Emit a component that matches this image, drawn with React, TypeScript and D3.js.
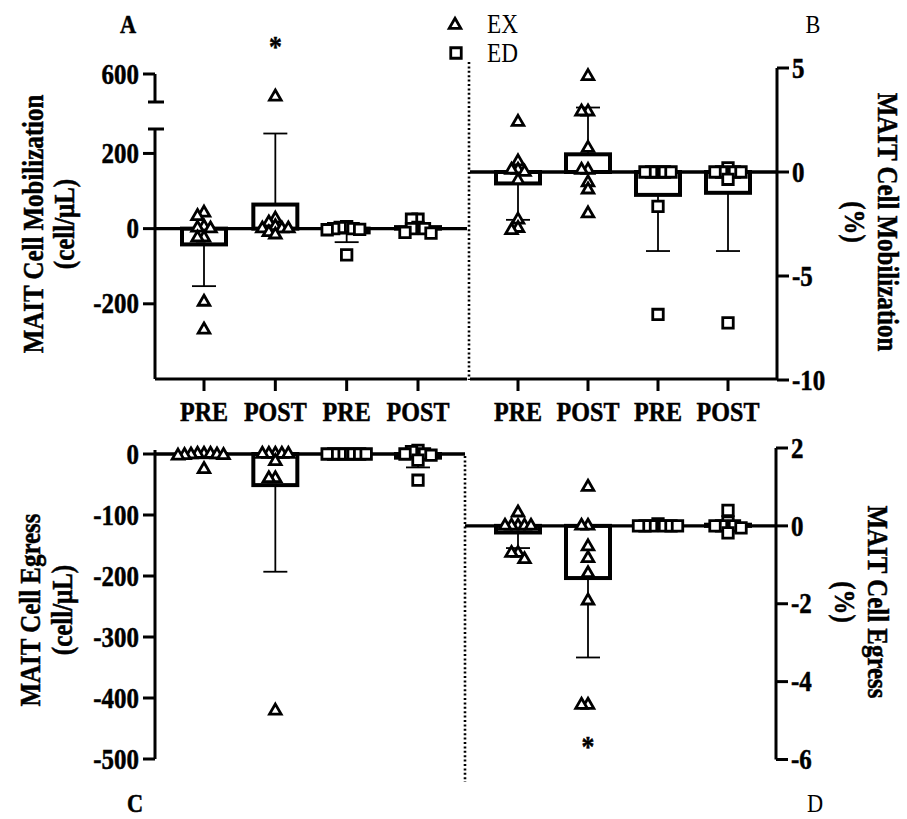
import React from "react";
import * as d3 from "d3";

// tick labels / groups
const groupLabels = ["PRE", "POST", "PRE", "POST"];
const groupShape = ["tri", "tri", "sq", "sq"]; // EX, EX, ED, ED

// A: MAIT cell mobilization (cell/uL)
const mobCellPreEx = [42, 33, 5, 2, 0, -24, -24, -195, -269];
const mobCellPostEx = [540, 26, 16, 6, 0, 0, 0, -10, -16];
const mobCellPreEd = [5, 3, 0, 0, -2, -3, -70];
const mobCellPostEd = [25, 25, 3, 0, 0, -10, -12];
const mobCellMean = [-42, 64, -10, 4];
const mobCellErr = [111, 189, 26, 6];

// B: MAIT cell mobilization (%)
const mobPctPreEx = [2.4, 0.5, 0.1, 0.1, 0, -0.4, -2.3, -2.7, -2.8];
const mobPctPostEx = [4.6, 2.9, 2.9, 1.15, 0.1, 0.1, -0.5, -0.85, -2.0];
const mobPctPreEd = [0, 0, 0, 0, 0, -1.65, -6.85];
const mobPctPostEd = [0.2, 0, 0, 0, 0, -0.35, -7.25];
const mobPctMean = [-0.55, 0.85, -1.1, -1.0];
const mobPctErr = [1.75, 2.25, 2.7, 2.8];

// C: MAIT cell egress (cell/uL)
const egrCellPreEx = [0, 0, 0, -1, -1, -2, -2, -3, -25];
const egrCellPostEx = [0, 0, 0, 0, 0, -12, -40, -40, -421];
const egrCellPreEd = [0, 0, 0, 0, 0, 0, 0];
const egrCellPostEd = [6, 4, 0, 0, -2, -10, -43];
const egrCellMean = [-3, -51, 0, -6];
const egrCellErr = [4, 142, 0, 16];

// D: MAIT cell egress (%)
const egrPctPreEx = [0.34, 0, 0, 0, 0, 0, -0.7, -0.7, -0.86];
const egrPctPostEx = [1.0, 0, 0, -0.53, -0.83, -1.22, -1.92, -4.6, -4.6];
const egrPctPreEd = [0.05, 0, 0, 0, 0, 0, 0];
const egrPctPostEd = [0.4, 0.1, 0, 0, 0, -0.05, -0.18];
const egrPctMean = [-0.17, -1.34, 0, 0.03];
const egrPctErr = [0.4, 2.04, 0, 0.05];

const ticksA = [200, 0, -200];
const ticksAUp = [600];
const ticksB = [5, 0, -5, -10];
const ticksC = [0, -100, -200, -300, -400, -500];
const ticksD = [2, 0, -2, -4, -6];

const FONT = "'Liberation Serif', 'Times New Roman', Times, serif";
const SX = 0.86;

const TRI = d3.symbol(d3.symbolTriangle, 58)() as string;
const SQ = d3.symbol(d3.symbolSquare, 110)() as string;

function T({ x, y, size = 29, weight = "bold", anchor = "middle", rot = 0, baseline = "auto", children }: any) {
  return (
    <text
      transform={`translate(${x},${y}) rotate(${rot}) scale(${SX},1)`}
      fontSize={size}
      fontWeight={weight}
      textAnchor={anchor}
      dominantBaseline={baseline}
      fontFamily={FONT}
      fill="#000"
      stroke={weight === "bold" ? "#000" : "none"}
      strokeWidth={weight === "bold" ? 0.5 : 0}
    >
      {children}
    </text>
  );
}

function swarm(vals: number[], y: (v: number) => number, cx: number) {
  const step = 6.5, minD = 6.5;
  const pts = vals.map((v) => ({ v, y: y(v) })).sort((a, b) => a.y - b.y);
  const placed: { x: number; y: number }[] = [];
  for (const p of pts) {
    for (let k = 0; k < 60; k++) {
      const off = (k % 2 === 0 ? 1 : -1) * Math.ceil(k / 2) * step;
      const x = cx + off;
      if (placed.every((q) => Math.hypot(q.x - x, q.y - p.y) >= minD)) {
        placed.push({ x, y: p.y });
        break;
      }
    }
  }
  return placed;
}

const xA = d3.scalePoint<number>().domain([0, 1, 2, 3]).range([204, 418]);
const xB = d3.scalePoint<number>().domain([0, 1, 2, 3]).range([518, 728]);
const yAlow = d3.scaleLinear().domain([-400, 265]).range([379, 129]);
const yAup = d3.scaleLinear().domain([526, 600]).range([102, 74]);
const yA = (v: number) => (v > 400 ? yAup(v) : yAlow(v));
const yB = d3.scaleLinear().domain([-10, 5]).range([380, 68]);
const yC = d3.scaleLinear().domain([-500, 0]).range([759, 454]);
const yD = d3.scaleLinear().domain([-6, 2]).range([759.5, 448]);

function Groups({ x, y, series, mean, err, zero }: any) {
  return (
    <g>
      <line x1={zero[0]} x2={zero[1]} y1={y(0)} y2={y(0)} stroke="#000" strokeWidth={3.4} />
      {mean.map((m: number, i: number) => {
        const cx = x(i);
        const y0 = y(0), y1 = y(m);
        return (
          <rect key={i} x={cx - 22} y={Math.min(y0, y1)} width={44} height={Math.abs(y1 - y0)}
            fill="none" stroke="#000" strokeWidth={4} />
        );
      })}
      {mean.map((m: number, i: number) => {
        if (!err[i]) return null;
        const cx = x(i);
        const e = m + (m < 0 ? -1 : 1) * err[i];
        return (
          <g key={i} stroke="#000" strokeWidth={1.8}>
            <line x1={cx} x2={cx} y1={y(m)} y2={y(e)} />
            <line x1={cx - 12} x2={cx + 12} y1={y(e)} y2={y(e)} />
          </g>
        );
      })}
      {series.map((vals: number[], i: number) =>
        swarm(vals, y, x(i)).map((p, j) => (
          <path key={`${i}-${j}`} d={groupShape[i] === "tri" ? TRI : SQ}
            transform={`translate(${p.x},${p.y})`} fill="#fff" stroke="#000" strokeWidth={2.8} />
        ))
      )}
    </g>
  );
}

function LeftTicks({ ticks, y, ax }: any) {
  return (
    <g>
      {ticks.map((t: number) => (
        <g key={t}>
          <line x1={ax - 12} x2={ax} y1={y(t)} y2={y(t)} stroke="#000" strokeWidth={3} />
          <T x={ax - 16} y={y(t)} anchor="end" baseline="central">{String(t)}</T>
        </g>
      ))}
    </g>
  );
}

function RightTicks({ ticks, y, ax }: any) {
  return (
    <g>
      {ticks.map((t: number) => (
        <g key={t}>
          <line x1={ax} x2={ax + 12} y1={y(t)} y2={y(t)} stroke="#000" strokeWidth={3} />
          <T x={ax + 15} y={y(t)} anchor="start" baseline="central">{String(t)}</T>
        </g>
      ))}
    </g>
  );
}

function XAxis({ x, x1, x2, yPos }: any) {
  return (
    <g>
      <line x1={x1} x2={x2} y1={yPos} y2={yPos} stroke="#000" strokeWidth={3} />
      {groupLabels.map((g, i) => (
        <g key={i}>
          <line x1={x(i)} x2={x(i)} y1={yPos} y2={yPos + 12} stroke="#000" strokeWidth={3} />
          <T x={x(i)} y={yPos + 42} size={28}>{g}</T>
        </g>
      ))}
    </g>
  );
}

export default function App() {
  return (
    <svg width={907} height={819} style={{ position: "absolute", left: 0, top: 0, background: "#fff" }}>
      <rect width={907} height={819} fill="#fff" />

      {/* dotted separators */}
      <line x1={469} x2={469} y1={62} y2={380} stroke="#000" strokeWidth={2.6} strokeDasharray="2,2.4" />
      <line x1={465} x2={465} y1={456} y2={782} stroke="#000" strokeWidth={2.6} strokeDasharray="2,2.4" />

      {/* Panel A */}
      <line x1={155} x2={155} y1={yAup(600)} y2={yAup(526)} stroke="#000" strokeWidth={3} />
      <line x1={148} x2={164} y1={yAup(526)} y2={yAup(526)} stroke="#000" strokeWidth={3} />
      <line x1={155} x2={155} y1={yAlow(265)} y2={yAlow(-400)} stroke="#000" strokeWidth={3} />
      <line x1={148} x2={164} y1={yAlow(265)} y2={yAlow(265)} stroke="#000" strokeWidth={3} />
      <LeftTicks ticks={ticksA} y={yAlow} ax={155} />
      <LeftTicks ticks={ticksAUp} y={yAup} ax={155} />
      <XAxis x={xA} x1={155} x2={467} yPos={379} />
      <Groups x={xA} y={yA} zero={[155, 467]}
        series={[mobCellPreEx, mobCellPostEx, mobCellPreEd, mobCellPostEd]}
        mean={mobCellMean} err={mobCellErr} />
      <T x={xA(1)} y={56} size={30}>*</T>
      <T x={33} y={224} rot={-90} baseline="central">MAIT Cell Mobilization</T>
      <T x={64} y={224} rot={-90} baseline="central">(cell/μL)</T>
      <T x={128} y={33} size={26}>A</T>

      {/* Panel B */}
      <line x1={777} x2={777} y1={yB(5)} y2={yB(-10)} stroke="#000" strokeWidth={3} />
      <RightTicks ticks={ticksB} y={yB} ax={777} />
      <XAxis x={xB} x1={470} x2={777} yPos={379} />
      <Groups x={xB} y={yB} zero={[470, 777]}
        series={[mobPctPreEx, mobPctPostEx, mobPctPreEd, mobPctPostEd]}
        mean={mobPctMean} err={mobPctErr} />
      <T x={888} y={222} rot={90} baseline="central">MAIT Cell Mobilization</T>
      <T x={855} y={222} rot={90} baseline="central">(%)</T>
      <T x={813} y={33} size={26} weight="normal">B</T>

      {/* Panel C */}
      <line x1={155} x2={155} y1={450} y2={yC(-500)} stroke="#000" strokeWidth={3} />
      <LeftTicks ticks={ticksC} y={yC} ax={155} />
      <Groups x={xA} y={yC} zero={[155, 465]}
        series={[egrCellPreEx, egrCellPostEx, egrCellPreEd, egrCellPostEd]}
        mean={egrCellMean} err={egrCellErr} />
      <T x={30} y={610} rot={-90} baseline="central">MAIT Cell Egress</T>
      <T x={62} y={610} rot={-90} baseline="central">(cell/μL)</T>
      <T x={135} y={812} size={26}>C</T>

      {/* Panel D */}
      <line x1={776} x2={776} y1={yD(2)} y2={yD(-6)} stroke="#000" strokeWidth={3} />
      <RightTicks ticks={ticksD} y={yD} ax={776} />
      <Groups x={xB} y={yD} zero={[465, 776]}
        series={[egrPctPreEx, egrPctPostEx, egrPctPreEd, egrPctPostEd]}
        mean={egrPctMean} err={egrPctErr} />
      <T x={xB(1)} y={756} size={30}>*</T>
      <T x={878} y={602} rot={90} baseline="central">MAIT Cell Egress</T>
      <T x={845} y={602} rot={90} baseline="central">(%)</T>
      <T x={815} y={812} size={26} weight="normal">D</T>

      {/* legend */}
      <path d={TRI} transform="translate(455,25)" fill="#fff" stroke="#000" strokeWidth={2.8} />
      <T x={487} y={33} size={27} weight="normal" anchor="start">EX</T>
      <path d={SQ} transform="translate(456,53)" fill="#fff" stroke="#000" strokeWidth={2.8} />
      <T x={487} y={62} size={27} weight="normal" anchor="start">ED</T>
    </svg>
  );
}
